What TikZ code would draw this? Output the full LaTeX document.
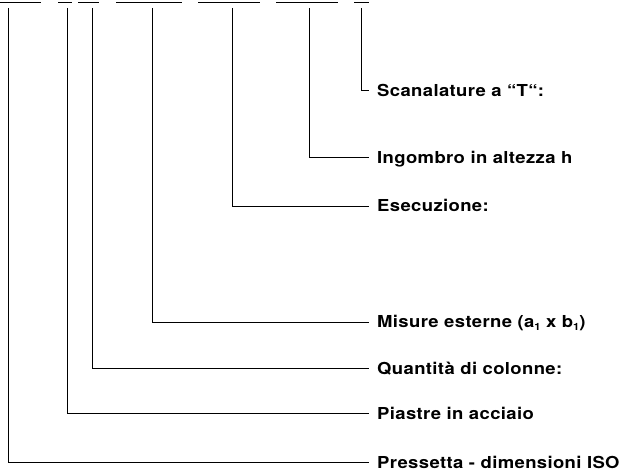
\documentclass[tikz,border=0pt]{standalone}
\usepackage{fontspec}
\setmainfont{TeX Gyre Heros}[LetterSpace=2]
\newcommand{\lblsub}[1]{\raisebox{-0.35ex}{\fontsize{10}{11}\selectfont #1}}
\begin{document}
\begin{tikzpicture}[x=1pt,y=-1pt,
  lbl/.style={anchor=west,inner xsep=0pt,inner ysep=0pt,text height=11.6pt,text depth=0pt,
    font=\fontsize{16.5}{19}\selectfont\bfseries, xscale=1.12, transform shape},
  conn/.style={draw=black,line width=0.9pt},
  topline/.style={draw=black,line width=1.4pt}]
\useasboundingbox (0,0) rectangle (630,470);
% top underlines
\draw[topline] (0,2.3) -- (41,2.3);
\draw[topline] (58,2.3) -- (72,2.3);
\draw[topline] (78,2.3) -- (99,2.3);
\draw[topline] (116,2.3) -- (182,2.3);
\draw[topline] (198,2.3) -- (260,2.3);
\draw[topline] (276,2.3) -- (338,2.3);
\draw[topline] (354,2.3) -- (369,2.3);
% start points
\coordinate (t1) at (8,8);
\coordinate (t2) at (67,8);
\coordinate (t3) at (92,8);
\coordinate (t4) at (152,8);
\coordinate (t5) at (232,8);
\coordinate (t6) at (309,8);
\coordinate (t7) at (361,8);
% labels
\node[lbl] (l7) at (377,90.5) {Scanalature a “T“:};
\node[lbl] (l6) at (377,157.5) {Ingombro in altezza h};
\node[lbl] (l5) at (377,206) {Esecuzione:};
\node[lbl] (l4) at (377,322) {Misure esterne (a\lblsub{1} x b\lblsub{1})};
\node[lbl] (l3) at (377,368.5) {Quantità di colonne:};
\node[lbl] (l2) at (377,413.5) {Piastre in acciaio};
\node[lbl] (l1) at (377,462.5) {Pressetta - dimensioni ISO};
% connectors
\draw[conn] (t1) |- ([xshift=-8pt]l1.west);
\draw[conn] (t2) |- ([xshift=-8pt]l2.west);
\draw[conn] (t3) |- ([xshift=-8pt]l3.west);
\draw[conn] (t4) |- ([xshift=-8pt]l4.west);
\draw[conn] (t5) |- ([xshift=-8pt]l5.west);
\draw[conn] (t6) |- ([xshift=-8pt]l6.west);
\draw[conn] (t7) |- ([xshift=-8pt]l7.west);
\end{tikzpicture}
\end{document}
